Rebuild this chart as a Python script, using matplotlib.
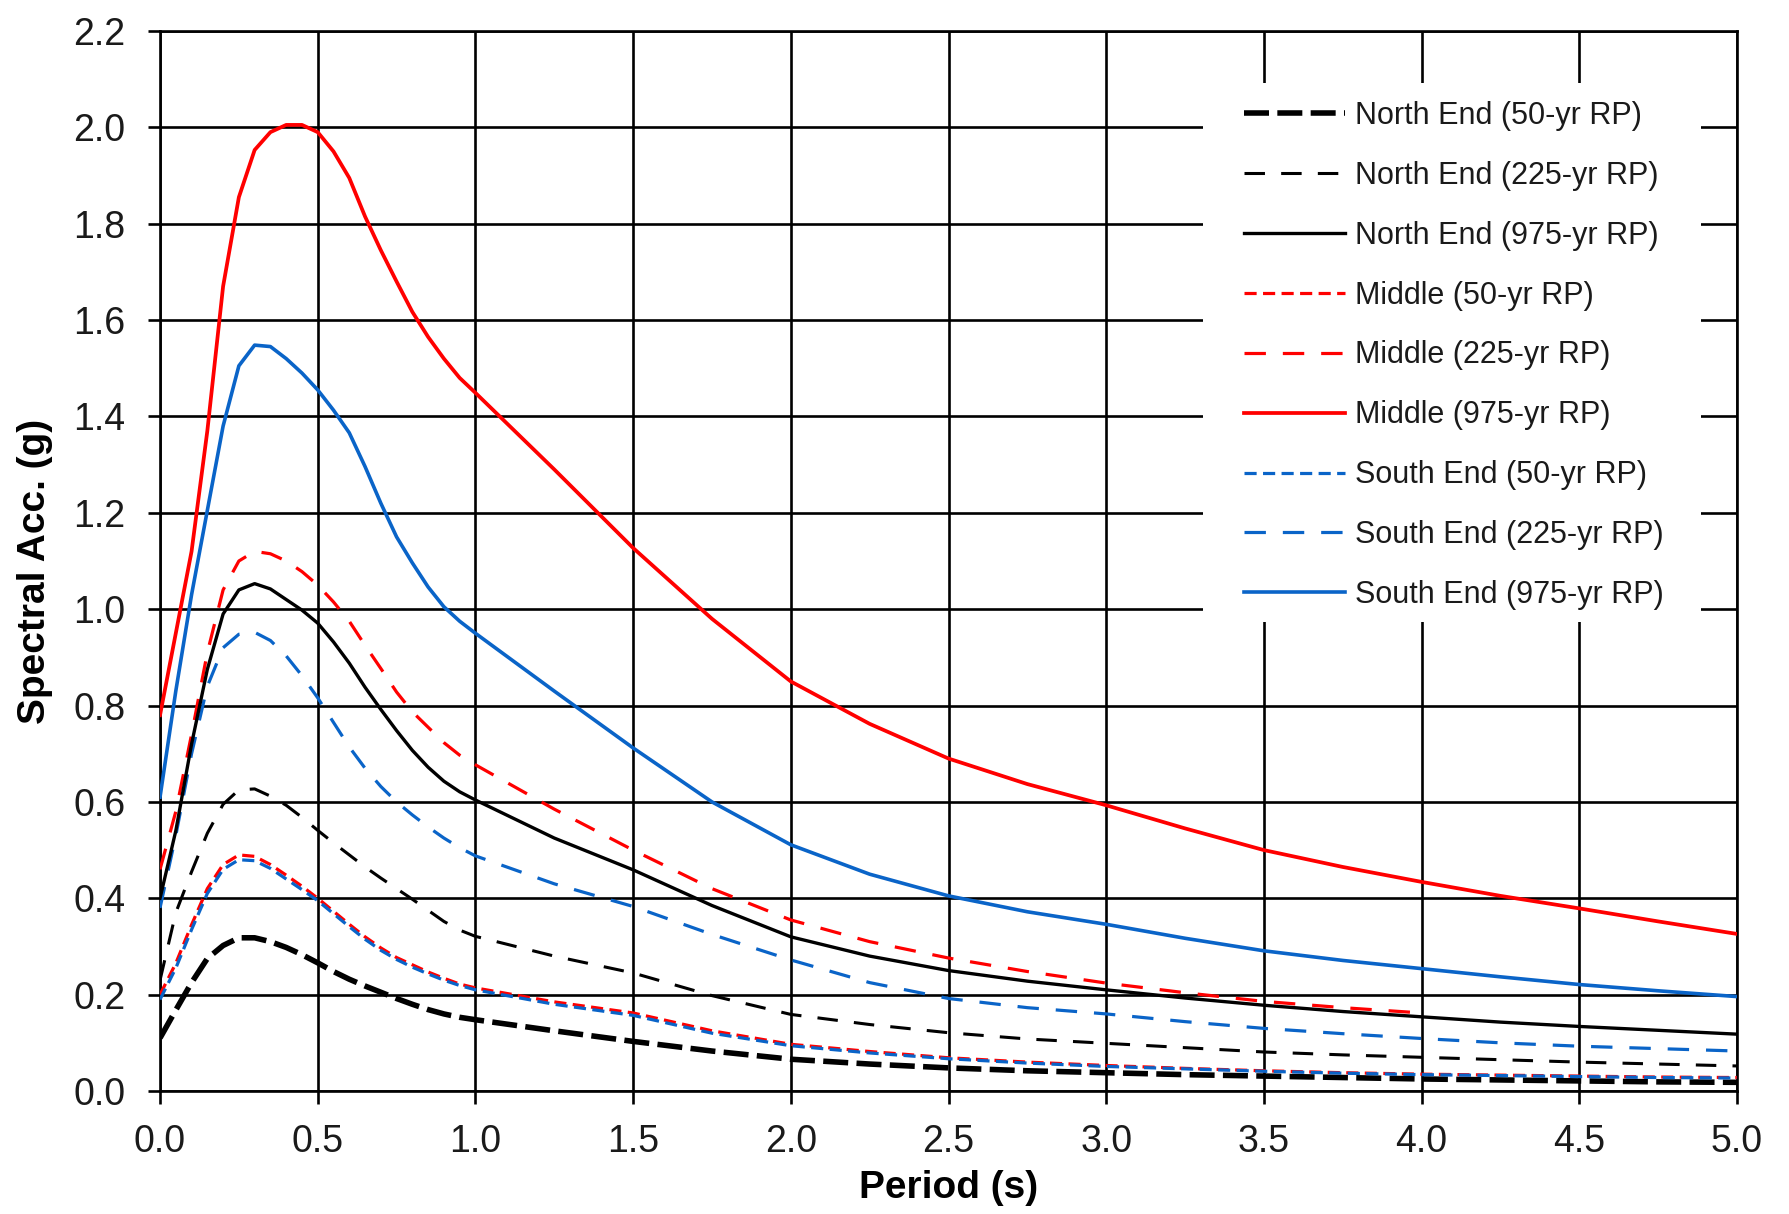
import numpy as np
import matplotlib
matplotlib.use("Agg")
import matplotlib.pyplot as plt
from matplotlib.patches import Rectangle

# Period grid (s)
period = [0.0, 0.05, 0.1, 0.15, 0.2, 0.25, 0.3, 0.35, 0.4, 0.45, 0.5, 0.55, 0.6, 0.65, 0.7,
          0.75, 0.8, 0.85, 0.9, 0.95, 1.0, 1.25, 1.5, 1.75, 2.0, 2.25, 2.5, 2.75, 3.0,
          3.25, 3.5, 3.75, 4.0, 4.25, 4.5, 4.75, 5.0]

north_50 = [0.11, 0.168, 0.225, 0.275, 0.302, 0.318, 0.318, 0.31, 0.298, 0.283, 0.266, 0.248,
            0.232, 0.218, 0.205, 0.192, 0.18, 0.169, 0.16, 0.153, 0.148, 0.125, 0.103, 0.083,
            0.066, 0.056, 0.048, 0.042, 0.038, 0.034, 0.031, 0.028, 0.025, 0.023, 0.021, 0.019, 0.018]
north_225 = [0.23, 0.37, 0.455, 0.535, 0.595, 0.625, 0.627, 0.612, 0.593, 0.568, 0.541, 0.515,
             0.49, 0.465, 0.442, 0.42, 0.398, 0.375, 0.352, 0.334, 0.321, 0.28, 0.245, 0.198,
             0.159, 0.138, 0.121, 0.108, 0.099, 0.09, 0.081, 0.075, 0.07, 0.065, 0.06, 0.056, 0.052]
north_975 = [0.40, 0.54, 0.72, 0.875, 0.99, 1.04, 1.053, 1.042, 1.02, 0.998, 0.971, 0.932,
             0.888, 0.838, 0.792, 0.748, 0.707, 0.672, 0.643, 0.621, 0.604, 0.525, 0.459, 0.385,
             0.32, 0.28, 0.25, 0.228, 0.21, 0.193, 0.178, 0.165, 0.154, 0.143, 0.134, 0.126, 0.118]
middle_50 = [0.20, 0.265, 0.345, 0.42, 0.47, 0.49, 0.487, 0.47, 0.448, 0.425, 0.40, 0.373,
             0.346, 0.32, 0.297, 0.277, 0.262, 0.247, 0.234, 0.222, 0.214, 0.185, 0.162, 0.125,
             0.097, 0.082, 0.069, 0.06, 0.053, 0.047, 0.042, 0.038, 0.035, 0.033, 0.031, 0.029, 0.028]
middle_225 = [0.46, 0.58, 0.74, 0.91, 1.04, 1.10, 1.12, 1.115, 1.10, 1.078, 1.05, 1.015,
              0.975, 0.925, 0.877, 0.828, 0.787, 0.755, 0.723, 0.697, 0.677, 0.585, 0.50, 0.42,
              0.355, 0.31, 0.276, 0.248, 0.224, 0.204, 0.186, 0.173, 0.162,
              np.nan, np.nan, np.nan, np.nan]
middle_975 = [0.78, 0.95, 1.12, 1.37, 1.67, 1.855, 1.953, 1.99, 2.005, 2.005, 1.99, 1.95,
              1.895, 1.815, 1.745, 1.68, 1.617, 1.565, 1.52, 1.48, 1.449, 1.29, 1.127, 0.98,
              0.85, 0.762, 0.69, 0.637, 0.593, 0.545, 0.50, 0.465, 0.434, 0.405, 0.379, 0.352, 0.326]
south_50 = [0.19, 0.255, 0.335, 0.41, 0.46, 0.48, 0.478, 0.462, 0.44, 0.418, 0.395, 0.368,
            0.341, 0.315, 0.292, 0.273, 0.257, 0.243, 0.23, 0.219, 0.21, 0.18, 0.157, 0.12,
            0.094, 0.079, 0.067, 0.058, 0.051, 0.046, 0.041, 0.037, 0.034, 0.032, 0.03, 0.028, 0.027]
south_225 = [0.38, 0.53, 0.70, 0.84, 0.92, 0.948, 0.952, 0.935, 0.903, 0.862, 0.816, 0.765,
             0.714, 0.67, 0.632, 0.60, 0.573, 0.548, 0.525, 0.505, 0.488, 0.43, 0.383, 0.325,
             0.272, 0.225, 0.192, 0.173, 0.16, 0.144, 0.13, 0.119, 0.109, 0.10, 0.093, 0.088, 0.083]
south_975 = [0.61, 0.83, 1.03, 1.205, 1.38, 1.505, 1.548, 1.545, 1.52, 1.49, 1.455, 1.413,
             1.366, 1.296, 1.22, 1.15, 1.096, 1.046, 1.005, 0.975, 0.95, 0.83, 0.712, 0.60,
             0.511, 0.45, 0.405, 0.372, 0.346, 0.317, 0.291, 0.271, 0.254, 0.237, 0.221, 0.208, 0.196]

labels = ["North End (50-yr RP)", "North End (225-yr RP)", "North End (975-yr RP)",
          "Middle (50-yr RP)", "Middle (225-yr RP)", "Middle (975-yr RP)",
          "South End (50-yr RP)", "South End (225-yr RP)", "South End (975-yr RP)"]
series = [north_50, north_225, north_975, middle_50, middle_225, middle_975,
          south_50, south_225, south_975]

x_ticks = [0.0, 0.5, 1.0, 1.5, 2.0, 2.5, 3.0, 3.5, 4.0, 4.5, 5.0]
y_ticks = [0.0, 0.2, 0.4, 0.6, 0.8, 1.0, 1.2, 1.4, 1.6, 1.8, 2.0, 2.2]

RED = "#ff0000"
BLUE = "#0a64c8"
BLACK = "#000000"
styles = [
    dict(color=BLACK, lw=4.0, dashes=(4.5, 1.5)),
    dict(color=BLACK, lw=2.2, dashes=(6.7, 5.3)),
    dict(color=BLACK, lw=2.4, ls="-"),
    dict(color=RED, lw=2.3, dashes=(3.8, 2.0)),
    dict(color=RED, lw=2.3, dashes=(6.7, 5.3)),
    dict(color=RED, lw=2.7, ls="-"),
    dict(color=BLUE, lw=2.3, dashes=(3.8, 2.0)),
    dict(color=BLUE, lw=2.3, dashes=(6.7, 5.3)),
    dict(color=BLUE, lw=2.6, ls="-"),
]

plt.rcParams['font.family'] = ['Liberation Sans', 'DejaVu Sans']

fig = plt.figure(figsize=(17.9, 12.14), dpi=100)
ax = fig.add_axes([0.0894, 0.1013, 0.881, 0.8732])

# draw order: lower curves first
order = [0, 3, 6, 1, 4, 7, 2, 5, 8]
handles = {}
for i in order:
    h, = ax.plot(period, series[i], label=labels[i], zorder=3, **styles[i])
    handles[i] = h

ax.set_xlim(0, 5.0)
ax.set_ylim(0, 2.2)
ax.set_xticks(x_ticks)
ax.set_yticks(y_ticks)
ax.set_xticklabels([f"{v:.1f}" for v in x_ticks])
ax.set_yticklabels([f"{v:.1f}" for v in y_ticks])
ax.grid(True, color="black", lw=1.9)
ax.set_axisbelow(True)
for sp in ax.spines.values():
    sp.set_linewidth(1.9)
    sp.set_color("black")
ax.tick_params(axis="both", direction="out", length=9, width=1.9, labelsize=27,
               labelcolor="#1a1a1a")
ax.tick_params(axis="x", pad=15)
ax.tick_params(axis="y", pad=16)

ax.set_xlabel("Period (s)", fontsize=28, fontweight="bold")
ax.set_ylabel("Spectral Acc. (g)", fontsize=28, fontweight="bold")
ax.xaxis.set_label_coords(0.5, -0.0745)
ax.yaxis.set_label_coords(-0.068, 0.49)

# white background behind the legend (hides grid lines there)
ax.add_patch(Rectangle((0.6614, 0.4425), 0.3158, 0.5085, transform=ax.transAxes,
                       facecolor="white", edgecolor="none", zorder=2))

leg = ax.legend([handles[i] for i in range(9)], labels, loc="upper left",
                bbox_to_anchor=(0.6874, 0.934), frameon=False, fontsize=22,
                handlelength=3.3, handletextpad=0.34, labelspacing=0.978,
                borderpad=0, borderaxespad=0)
leg.set_zorder(4)
for t in leg.get_texts():
    t.set_color("#1a1a1a")

fig.savefig("out.png", dpi=100, facecolor="white")
